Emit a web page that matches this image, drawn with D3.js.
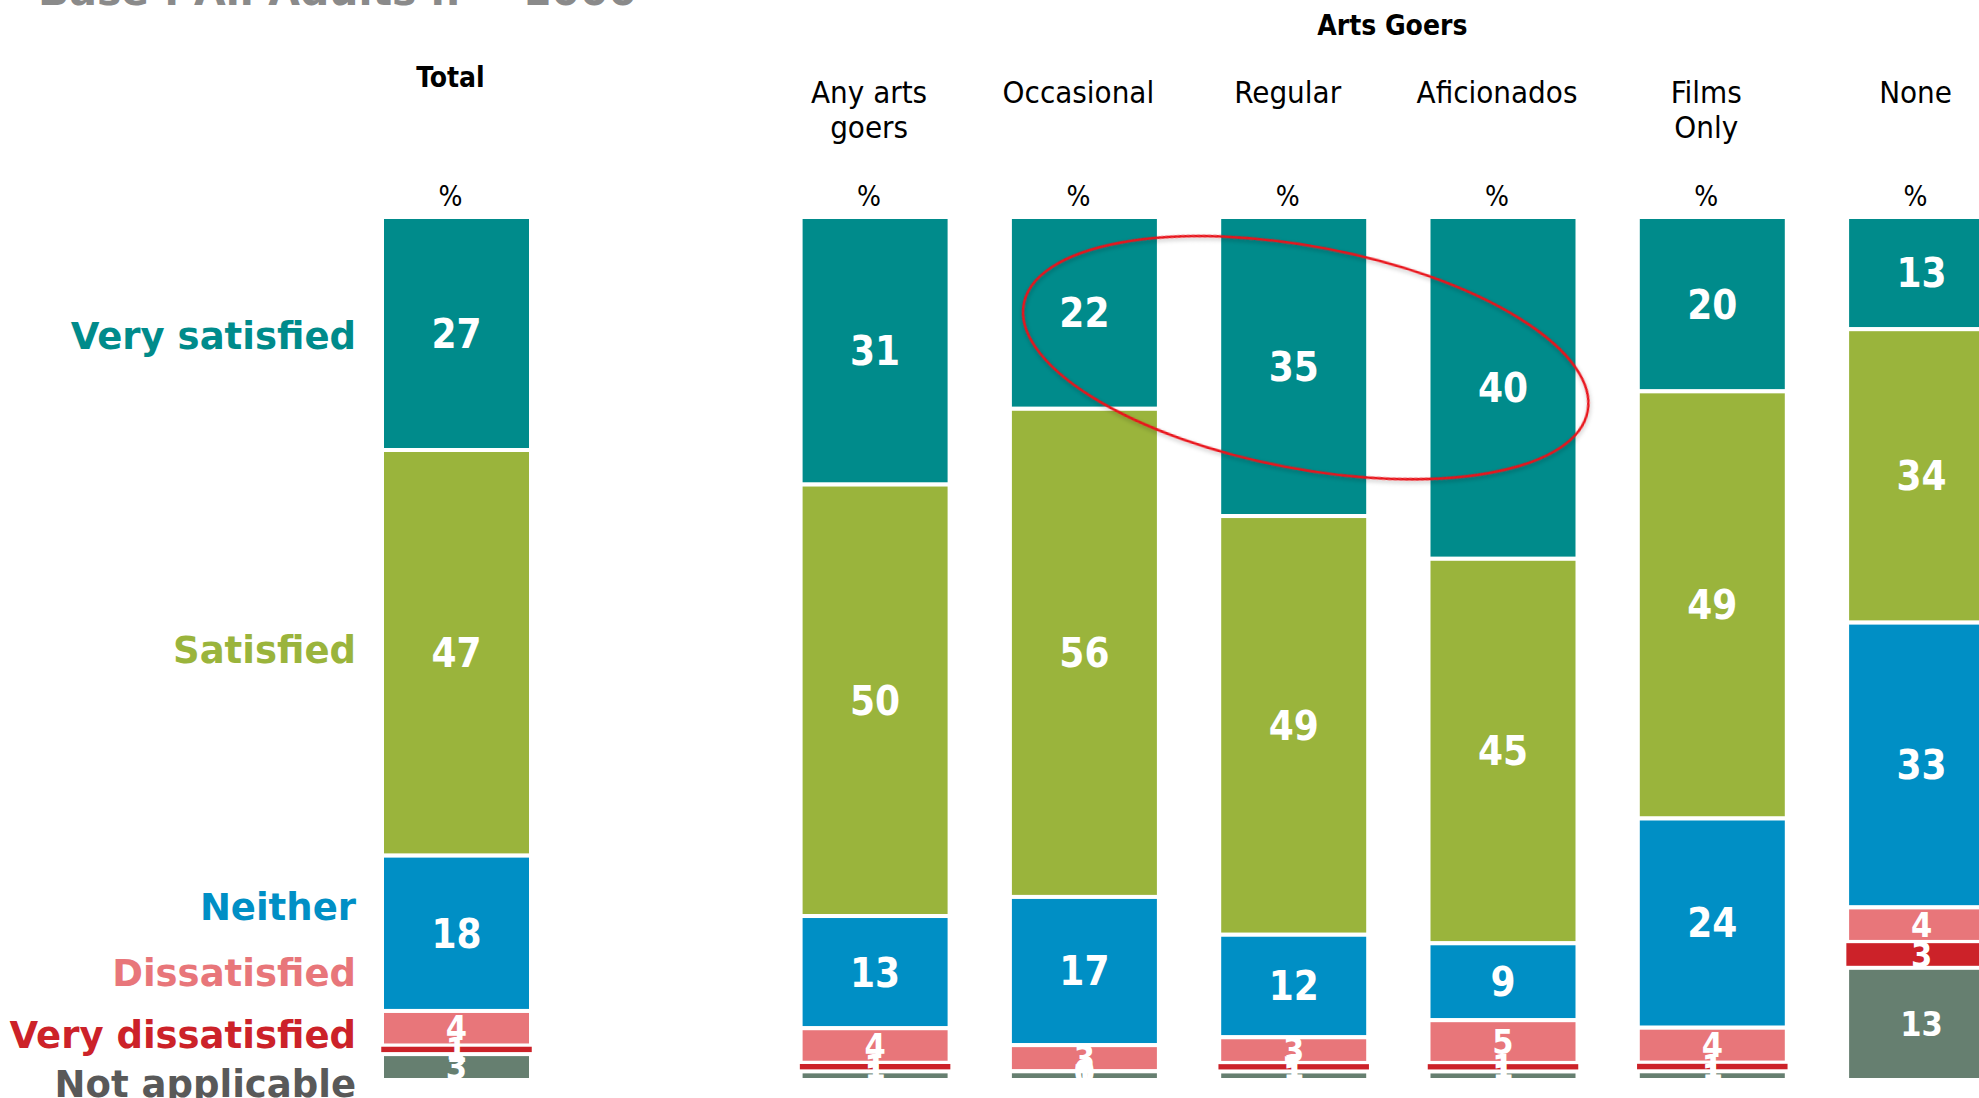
<!DOCTYPE html>
<html>
<head>
<meta charset="utf-8">
<script src="https://cdn.jsdelivr.net/npm/d3@7"></script>
<style>
  html, body { margin: 0; padding: 0; background: #ffffff; overflow: hidden; }
  svg { display: block; }
</style>
</head>
<body>
<svg id="chart" width="1979" height="1098"></svg>
<script>
// Satisfaction by arts attendance group (%)
const categories = ["Total", "Any arts goers", "Occasional", "Regular", "Aficionados", "Films Only", "None"];
const categoryLines = [["Total"], ["Any arts", "goers"], ["Occasional"], ["Regular"], ["Aficionados"], ["Films", "Only"], ["None"]];
const responses = ["Very satisfied", "Satisfied", "Neither", "Dissatisfied", "Very dissatisfied", "Not applicable"];

const verySatisfied    = [27, 31, 22, 35, 40, 20, 13];
const satisfied        = [47, 50, 56, 49, 45, 49, 34];
const neither          = [18, 13, 17, 12,  9, 24, 33];
const dissatisfied     = [ 4,  4,  3,  3,  5,  4,  4];
const veryDissatisfied = [ 1,  1,  0,  1,  1,  1,  3];
const notApplicable    = [ 3,  1,  1,  1,  1,  1, 13];

const seriesValues = [verySatisfied, satisfied, neither, dissatisfied, veryDissatisfied, notApplicable];
const fillColors  = ["#008b8b", "#9ab43c", "#008fc5", "#e8767a", "#cc2229", "#667f70"];
const legendColors = ["#008b8b", "#9ab43c", "#008fc5", "#e8767a", "#cc2229", "#595959"];

const svg = d3.select("#chart");

// One row per group, keyed by response
const rows = categories.map((c, i) => {
  const r = { category: c };
  responses.forEach((k, j) => { r[k] = seriesValues[j][i]; });
  return r;
});

// The Total column stands apart from the attendance groups by one empty slot
const slots = [categories[0], "__spacer", ...categories.slice(1)];
const step = 209.3, barW = 149, left = 382;
const x = d3.scaleBand()
  .domain(slots)
  .range([left, left + (slots.length - 1) * step + barW])
  .paddingInner(1 - barW / step)
  .paddingOuter(0);

const y = d3.scaleLinear().domain([0, 1]).range([217, 1080]);

const stack = d3.stack().keys(responses).offset(d3.stackOffsetExpand);
const stacked = stack(rows);

// Title line (partly above the visible area)
svg.append("text")
  .attr("x", 38).attr("y", 5)
  .attr("font-family", "DejaVu Sans, Verdana, sans-serif")
  .attr("font-weight", "bold")
  .attr("font-size", 41)
  .attr("fill", "#8a8a8a")
  .text("Base : All Adults n = 1000");

// Column headers
const headerFont = "'DejaVu Sans Condensed', 'DejaVu Sans', sans-serif";
const hdrShift = -6;

svg.append("text")
  .attr("x", x("Total") + x.bandwidth() / 2 + hdrShift).attr("y", 87)
  .attr("text-anchor", "middle")
  .attr("font-family", headerFont).attr("font-stretch", "condensed")
  .attr("font-weight", "bold").attr("font-size", 28)
  .text("Total");

const groupStart = x(categories[1]);
const groupEnd = x(categories[categories.length - 1]) + x.bandwidth();
svg.append("text")
  .attr("x", (groupStart + groupEnd) / 2 + hdrShift).attr("y", 35)
  .attr("text-anchor", "middle")
  .attr("font-family", headerFont).attr("font-stretch", "condensed")
  .attr("font-weight", "bold").attr("font-size", 28)
  .text("Arts Goers");

categories.forEach((c, i) => {
  const cx = x(c) + x.bandwidth() / 2 + hdrShift;
  if (i > 0) {
    const t = svg.append("text")
      .attr("text-anchor", "middle")
      .attr("font-family", headerFont).attr("font-stretch", "condensed")
      .attr("font-size", 31).attr("fill", "#000");
    categoryLines[i].forEach((line, k) => {
      t.append("tspan").attr("x", cx).attr("y", 103 + k * 35).text(line);
    });
  }
  svg.append("text")
    .attr("x", cx).attr("y", 206)
    .attr("text-anchor", "middle")
    .attr("font-family", headerFont).attr("font-stretch", "condensed")
    .attr("font-size", 28).attr("fill", "#000")
    .text("%");
});

// Stacked segments
const layers = svg.append("g").selectAll("g")
  .data(stacked)
  .join("g")
  .attr("fill", (d, i) => fillColors[i]);

layers.selectAll("rect")
  .data(d => d.map(p => ({ key: d.key, idx: d.index, p })))
  .join("rect")
  .attr("x", d => x(d.p.data.category) - (d.idx === 4 ? 2 : 0))
  .attr("width", d => x.bandwidth() + (d.idx === 4 ? 4 : 0))
  .attr("y", d => y(d.p[0]))
  .attr("height", d => Math.max(0, y(d.p[1]) - y(d.p[0])))
  .attr("stroke", "#ffffff")
  .attr("stroke-width", d => d.idx === 4 ? 2.5 : 4)
  .filter(d => d.p[1] - d.p[0] <= 0).remove();

// Value labels
const labelFont = "'DejaVu Sans Condensed', 'DejaVu Sans', sans-serif";
const labels = svg.append("g");
stacked.forEach((layer, i) => {
  labels.selectAll(null)
    .data(layer)
    .join("text")
    .attr("x", d => x(d.data.category) + x.bandwidth() / 2)
    .attr("y", d => (y(d[0]) + y(d[1])) / 2)
    .attr("dy", "0.36em")
    .attr("text-anchor", "middle")
    .attr("font-family", labelFont).attr("font-stretch", "condensed")
    .attr("font-weight", "bold")
    .attr("font-size", i < 3 ? 40 : 34)
    .attr("fill", "#ffffff")
    .text(d => d.data[layer.key]);
});

// Response key at the left
const keyBaselines = [349, 663, 920, 986, 1048, 1097];
responses.forEach((r, i) => {
  svg.append("text")
    .attr("x", 356).attr("y", keyBaselines[i])
    .attr("text-anchor", "end")
    .attr("font-family", "DejaVu Sans, Verdana, sans-serif")
    .attr("font-weight", "bold")
    .attr("font-size", 37)
    .attr("fill", legendColors[i])
    .text(r);
});

// Highlight ring around the top segments of the attender groups
const defs = svg.append("defs");
const f = defs.append("filter").attr("id", "ringShadow")
  .attr("x", "-10%").attr("y", "-20%").attr("width", "120%").attr("height", "140%");
f.append("feDropShadow").attr("dx", 1).attr("dy", 2).attr("stdDeviation", 2)
  .attr("flood-color", "#000").attr("flood-opacity", 0.25);

const ringCx = x("Regular") + x.bandwidth() / 2 + 12;
const ringCy = y(0.163);
svg.append("ellipse")
  .attr("cx", 0).attr("cy", 0)
  .attr("rx", 287).attr("ry", 111)
  .attr("transform", `translate(${ringCx},${ringCy}) rotate(10.8)`)
  .attr("fill", "none")
  .attr("stroke", "#e8121a")
  .attr("stroke-width", 2.5)
  .attr("filter", "url(#ringShadow)");
</script>
</body>
</html>
